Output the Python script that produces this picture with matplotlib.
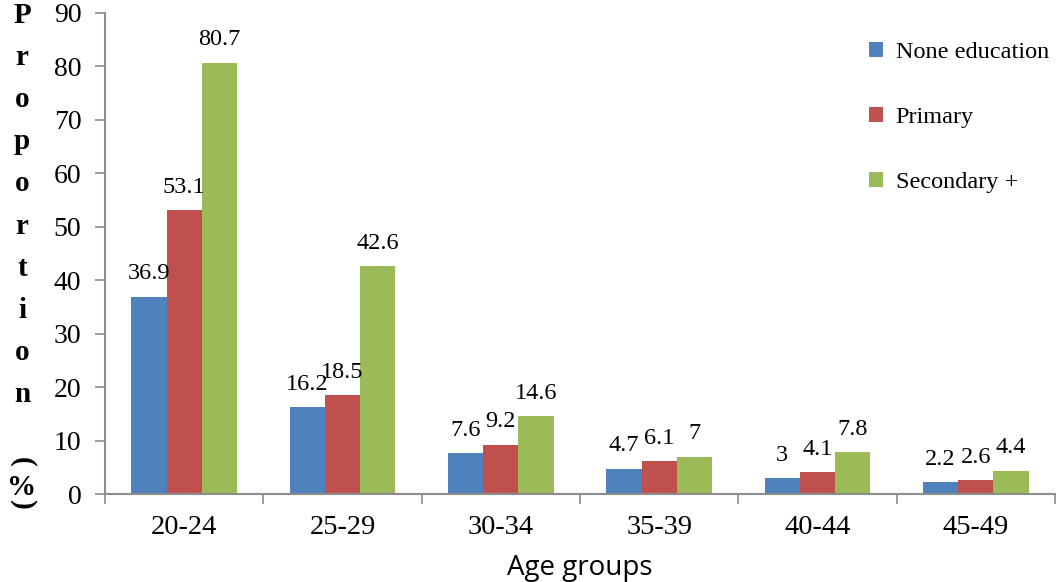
import numpy as np
import matplotlib.pyplot as plt

groups = ['20-24', '25-29', '30-34', '35-39', '40-44', '45-49']
none_edu = [36.9, 16.2, 7.6, 4.7, 3, 2.2]
primary = [53.1, 18.5, 9.2, 6.1, 4.1, 2.6]
secondary = [80.7, 42.6, 14.6, 7, 7.8, 4.4]
series_names = ['None education', 'Primary', 'Secondary +']
colors = ['#4f81bd', '#c0504d', '#9bbb59']

serif = 'Liberation Serif'

fig = plt.figure(figsize=(10.64, 5.82), dpi=100)
ax = fig.add_axes([0.0987, 0.151, 0.8928, 0.827])

x = np.arange(len(groups))
w = 1 / 4.5
for i, (vals, name, c) in enumerate(zip([none_edu, primary, secondary], series_names, colors)):
    bars = ax.bar(x + (i - 1) * w, vals, w, color=c, label=name)
    ax.bar_label(bars, labels=[f'{v:g}' for v in vals], padding=9,
                 fontsize=17.5, family=serif)

ax.set_xlim(-0.5, len(groups) - 0.5)
ax.set_ylim(0, 90)
ax.set_yticks(range(0, 91, 10))
ax.set_xticks(x)
ax.set_xticklabels(groups, family=serif, fontsize=20.5)
ax.set_xticks(np.arange(-0.5, len(groups), 1), minor=True)
ax.tick_params(axis='x', which='major', length=0, pad=15)
ax.tick_params(axis='x', which='minor', length=7, color='#8c8c8c', width=1.2)
ax.tick_params(axis='y', length=7, color='#8c8c8c', width=1.2, pad=10)
for lab in ax.get_yticklabels():
    lab.set_family(serif)
    lab.set_fontsize(20)

for s in ['top', 'right']:
    ax.spines[s].set_visible(False)
for s in ['left', 'bottom']:
    ax.spines[s].set_color('#8c8c8c')
    ax.spines[s].set_linewidth(1.5)

ax.set_xlabel('Age groups', fontsize=20, family='Open Sans', labelpad=10)

leg = ax.legend(loc='upper left', bbox_to_anchor=(0.781, 0.985), frameon=False,
                prop={'family': serif, 'size': 17.5}, handlelength=0.6,
                handleheight=0.6, handletextpad=0.5, labelspacing=1.8)

# stacked vertical y label, one character per line
word = 'Proportion'
for ch, yb in zip(word, np.linspace(23, 402, len(word))):
    fig.text(0.0207, 1 - yb / 582, ch, family=serif, fontsize=21, fontweight='bold',
             ha='center', va='baseline')
fig.text(0.0207, 1 - 495 / 582, '%', family=serif, fontsize=21, fontweight='bold',
         ha='center', va='baseline')
fig.text(0.0207, 1 - 462 / 582, '(', family=serif, fontsize=21, fontweight='bold',
         ha='center', va='center', rotation=-90)
fig.text(0.0207, 1 - 505 / 582, ')', family=serif, fontsize=21, fontweight='bold',
         ha='center', va='center', rotation=-90)

fig.savefig('out.png', dpi=100)
